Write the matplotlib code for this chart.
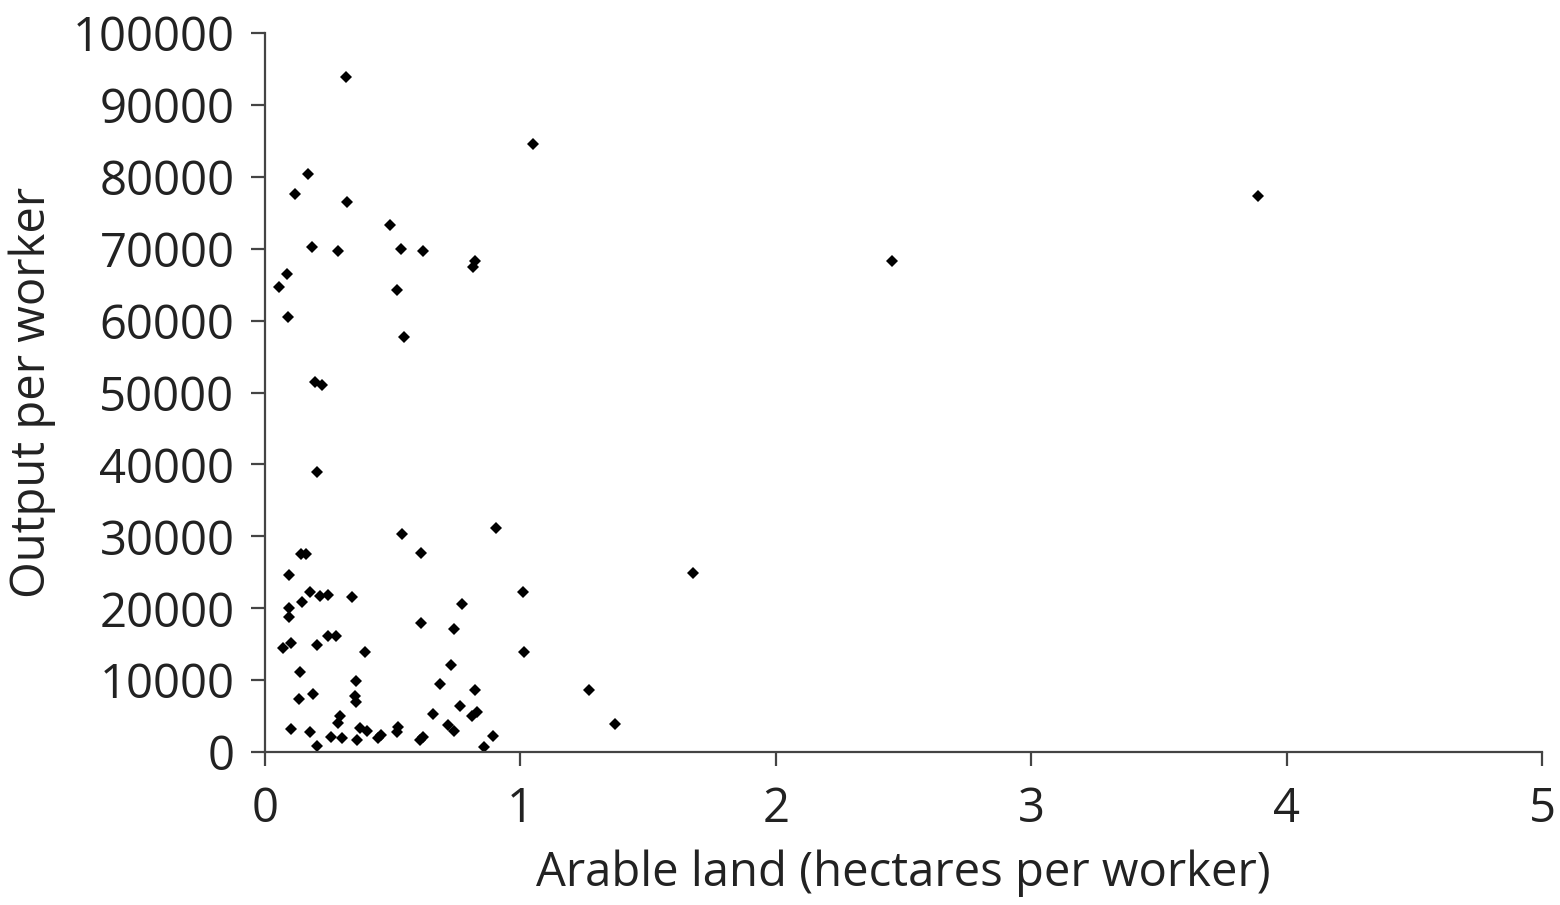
import matplotlib
matplotlib.use("Agg")
import matplotlib.pyplot as plt

x_land = [0.095, 0.176, 0.144, 0.215, 0.248, 0.339, 0.095, 0.095, 0.072, 0.100,
          0.202, 0.248, 0.278, 0.392, 0.137, 0.134, 0.187, 0.356, 0.352, 0.356,
          0.294, 0.287, 0.100, 0.176, 0.205, 0.257, 0.300, 0.359, 0.372, 0.400,
          0.444, 0.453, 0.516, 0.522, 0.607, 0.617, 0.610, 0.741, 0.773, 0.727,
          0.685, 0.659, 0.763, 0.822, 0.809, 0.831, 0.718, 0.740, 0.857, 0.892,
          1.009, 1.015,
          0.196, 0.222, 0.202, 0.535, 0.904, 0.140, 0.160, 0.611,
          0.170, 0.117, 0.320, 0.489, 0.183, 0.287, 0.533, 0.620, 0.822, 0.813,
          0.085, 0.056, 0.516, 0.091, 0.544,
          0.317, 1.049, 3.888, 2.455, 1.676, 1.269, 1.370]
y_output = [24620, 22210, 20900, 21700, 21800, 21500, 20070, 18820, 14420, 15120,
            14880, 16130, 16130, 13950, 11170, 7330, 8030, 9870, 7790, 7000,
            5010, 3990, 3160, 2820, 880, 2130, 1900, 1670, 3300, 2960,
            1900, 2360, 2820, 3520, 1670, 2040, 17900, 17060, 20580, 12100,
            9410, 5240, 6440, 8620, 5010, 5600, 3760, 2960, 650, 2230,
            22210, 13950,
            51500, 51040, 38900, 30320, 31110, 27600, 27600, 27640,
            80390, 77570, 76540, 73300, 70190, 69720, 69960, 69720, 68330, 67410,
            66480, 64630, 64260, 60460, 57680,
            93880, 84560, 77330, 68290, 24900, 8620, 3890]

x_ticks = [0, 1, 2, 3, 4, 5]
y_ticks = list(range(0, 100001, 10000))

plt.rcParams['font.family'] = ['Open Sans', 'DejaVu Sans']

fig = plt.figure(figsize=(15.6, 9.05), dpi=100)
ax = fig.add_axes([0.1699, 0.169, 0.8186, 0.7945])
ax.plot(x_land, y_output, linestyle='none', marker='D', markersize=6.5,
        color='black', markeredgewidth=0)
ax.set_xlim(0, 5)
ax.set_ylim(0, 100000)
ax.set_xticks(x_ticks)
ax.set_yticks(y_ticks)
ax.set_xticklabels([str(v) for v in x_ticks])
ax.set_yticklabels([str(v) for v in y_ticks])
for s in ['top', 'right']:
    ax.spines[s].set_visible(False)
for s in ['left', 'bottom']:
    ax.spines[s].set_color('#444444')
    ax.spines[s].set_linewidth(1.6)
ax.tick_params(direction='out', length=10, width=1.6, color='#444444',
               labelsize=34, labelcolor='#222222')
ax.tick_params(axis='y', pad=12)
ax.tick_params(axis='x', pad=14)
ax.set_xlabel('Arable land (hectares per worker)', fontsize=34, color='#222222', labelpad=12)
ax.set_ylabel('Output per worker', fontsize=34, color='#222222', labelpad=12)
fig.savefig('out.png', dpi=100, facecolor='white')
